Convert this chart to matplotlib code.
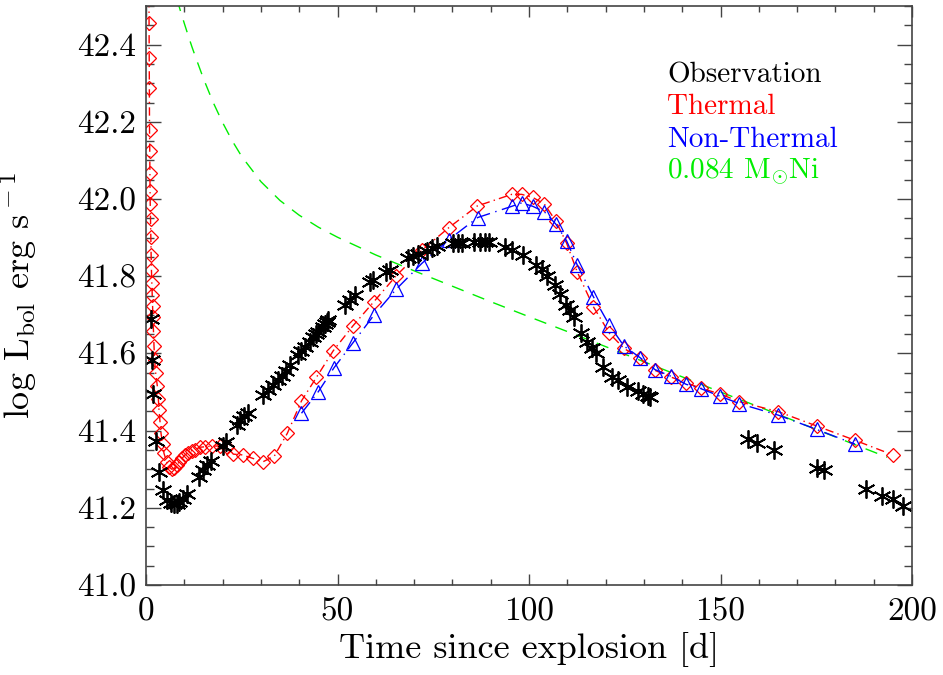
import numpy as np
import matplotlib
matplotlib.use("Agg")
from matplotlib import pyplot as plt
from matplotlib.ticker import MultipleLocator, FormatStrFormatter

### Bolometric light curve: observation vs. thermal / non-thermal models + Ni decay

# observation (black asterisks)
obs_t = [1.2, 1.6, 1.8, 2.6, 3.5, 4.4, 5.6, 6.4, 7.2, 8.0, 8.7, 9.6, 10.7,
         13.8, 14.8, 15.9, 16.9, 20.0, 20.9,
         23.7, 24.6, 25.7, 26.6,
         30.6, 31.9, 33.2, 34.5, 35.5, 36.5, 37.6,
         39.8, 40.6, 41.5, 42.8, 43.7, 44.4, 45.0, 46.1, 46.7, 47.2, 47.6,
         52.0, 53.3, 54.6, 58.5, 59.3, 62.7, 63.7, 68.5, 69.8, 71.1, 73.3, 74.6, 75.9,
         80.2, 81.5, 82.5, 85.6, 87.2, 88.4, 89.6, 93.7, 95.5, 98.5, 101.8, 103.3,
         104.8, 106.8, 108.1, 109.7, 110.7, 111.7, 113.5, 115.1, 116.4, 117.5, 119.4,
         121.8, 123.3, 125.5, 128.5, 129.8, 131.0, 131.6,
         157.3, 159.4, 164.0, 175.1, 177.0, 188.0, 192.1, 195.0, 197.7]
obs_L = [41.688, 41.584, 41.494, 41.374, 41.293, 41.246, 41.220, 41.212, 41.209, 41.210, 41.216, 41.224, 41.237,
         41.280, 41.297, 41.311, 41.322, 41.360, 41.370,
         41.414, 41.427, 41.438, 41.446,
         41.492, 41.505, 41.518, 41.531, 41.542, 41.555, 41.570,
         41.596, 41.606, 41.617, 41.630, 41.643, 41.650, 41.656, 41.669, 41.676, 41.682, 41.686,
         41.725, 41.738, 41.751, 41.785, 41.790, 41.811, 41.817, 41.846, 41.852, 41.857, 41.866, 41.872, 41.878,
         41.886, 41.886, 41.887, 41.889, 41.889, 41.889, 41.889, 41.875, 41.867, 41.854, 41.830, 41.818,
         41.801, 41.777, 41.754, 41.725, 41.712, 41.695, 41.653, 41.630, 41.613, 41.600, 41.565,
         41.539, 41.531, 41.513, 41.502, 41.495, 41.490, 41.488,
         41.377, 41.367, 41.350, 41.302, 41.297, 41.248, 41.230, 41.222, 41.205]

# thermal model (red diamonds)
th_t = [0.75, 0.80, 0.84, 0.88, 0.92, 0.98, 1.02, 1.06, 1.10, 1.18, 1.26, 1.34, 1.42, 1.52, 1.62, 1.72, 1.80, 1.95,
        2.09, 2.26, 2.52, 2.96, 3.22, 3.39, 3.66, 3.92, 4.35, 4.70, 5.40, 6.09, 6.70, 7.40, 8.01, 8.70,
        9.40, 10.18, 11.05, 11.93, 12.79, 14.1, 15.4, 17.2, 19.3, 21.1, 22.8, 25.2, 27.9, 30.5, 33.5,
        36.9, 40.6, 44.5, 48.9, 54.0, 59.5, 65.3, 72.0, 79.1, 86.5, 95.5, 98.1, 101.0, 104.0, 107.0,
        109.8, 112.6, 116.8, 121.0, 124.8, 129.0, 132.9, 137.0, 141.0, 144.8, 149.9, 154.9, 165.1,
        175.1, 185.1, 195.0]
th_L = [42.600, 42.456, 42.366, 42.288, 42.178, 42.125, 42.068, 42.021, 41.988, 41.947, 41.902, 41.855, 41.817,
        41.783, 41.752, 41.724, 41.695, 41.658,
        41.619, 41.583, 41.550, 41.515, 41.483, 41.453, 41.423, 41.393, 41.365, 41.341, 41.319, 41.306,
        41.300, 41.302, 41.311, 41.319,
        41.328, 41.337, 41.343, 41.348, 41.351, 41.357, 41.358, 41.360, 41.360, 41.358, 41.339, 41.337,
        41.328, 41.319, 41.334,
        41.393, 41.477, 41.538, 41.607, 41.671, 41.734, 41.801, 41.867, 41.926, 41.982, 42.012, 42.012,
        42.004, 41.987, 41.943,
        41.886, 41.811, 41.721, 41.652, 41.613, 41.587, 41.556, 41.539, 41.524, 41.510, 41.495, 41.475,
        41.449, 41.412, 41.375, 41.337]

# non-thermal model (blue triangles)
nt_t = [40.6, 45.0, 49.1, 54.0, 59.5, 65.3, 72.0, 79.1, 86.6, 95.5, 98.1, 101.0, 104.0, 107.0, 109.8,
        112.6, 116.8, 121.0, 124.8, 129.0, 132.9, 137.0, 141.0, 144.8, 149.9, 154.9, 165.1, 175.1, 185.1]
nt_L = [41.445, 41.501, 41.563, 41.627, 41.699, 41.766, 41.833, 41.895, 41.952, 41.981, 41.990, 41.981,
        41.967, 41.935, 41.892, 41.829, 41.747, 41.673, 41.619, 41.589, 41.558, 41.541, 41.520, 41.509,
        41.489, 41.470, 41.440, 41.403, 41.365]

# 0.084 Msun Ni decay (green dashed)
ni_t = [5, 6, 7, 8, 9, 10, 11, 12, 13, 15, 17.5, 20, 22.5, 25, 30, 35, 40, 45, 50, 60, 70, 80, 90,
        100, 112, 125, 137, 150, 162, 175, 185, 193.5]
ni_L = [42.627, 42.590, 42.555, 42.521, 42.487, 42.455, 42.424, 42.394, 42.366, 42.312, 42.251, 42.198,
        42.151, 42.110, 42.045, 41.996, 41.958, 41.927, 41.901, 41.855, 41.814, 41.774, 41.734, 41.695,
        41.649, 41.598, 41.551, 41.500, 41.454, 41.403, 41.364, 41.331]

legend_labels = ['Observation', 'Thermal', 'Non-Thermal', r'0.084 M$_{\odot}$Ni']
legend_colors = ['black', 'red', 'blue', '#00ee00']

plt.rcParams['font.family'] = ['cmr10', 'DejaVu Serif']
plt.rcParams['mathtext.fontset'] = 'cm'
plt.rcParams['axes.formatter.use_mathtext'] = True

fig = plt.figure(figsize=(9.43, 6.75), dpi=100)
ax = fig.add_axes([146 / 943, 1 - 585 / 675, 766 / 943, 579 / 675])

ax.plot(ni_t, ni_L, color='#00ee00', lw=1.0, ls=(0, (9, 7)))
ax.plot(th_t, th_L, color='red', lw=1.0, ls=(0, (6, 3, 1, 3)),
        marker='D', ms=7, mfc='none', mec='red', mew=0.9)
ax.plot(nt_t, nt_L, color='blue', lw=1.0, ls=(0, (10, 4, 1, 4)),
        marker='^', ms=10, mfc='none', mec='blue', mew=0.9)
ax.plot(obs_t, obs_L, ls='none', marker=(6, 2, 0), ms=13, color='black', mew=1.3)

ax.set_xlim(0, 200)
ax.set_ylim(41.0, 42.5)
ax.xaxis.set_major_locator(MultipleLocator(50))
ax.xaxis.set_minor_locator(MultipleLocator(10))
ax.yaxis.set_major_locator(MultipleLocator(0.2))
ax.yaxis.set_minor_locator(MultipleLocator(0.05))
ax.yaxis.set_major_formatter(FormatStrFormatter('%.1f'))
ax.xaxis.set_major_formatter(FormatStrFormatter('%d'))

for s in ax.spines.values():
    s.set_color('#444444')
    s.set_linewidth(1.2)
ax.tick_params(which='both', direction='in', top=True, right=True, color='#444444',
               labelsize=24, width=1.0)
ax.tick_params(axis='x', which='major', length=8, pad=9)
ax.tick_params(axis='x', which='minor', length=4)
ax.tick_params(axis='y', which='major', length=11, pad=7)
ax.tick_params(axis='y', which='minor', length=5.5)

ax.set_xlabel('Time since explosion [d]', fontsize=26, labelpad=4)
ax.set_ylabel(r'log L$_{\rm bol}$ erg s$^{\rm -1}$', fontsize=26)
ax.yaxis.set_label_coords(-0.138, 0.5)

ys = [0.881, 0.826, 0.769, 0.712]
for lab, col, yy in zip(legend_labels, legend_colors, ys):
    ax.text(0.68, yy, lab, color=col, fontsize=21, transform=ax.transAxes,
            ha='left', va='center')

fig.savefig('out.png', dpi=100)
